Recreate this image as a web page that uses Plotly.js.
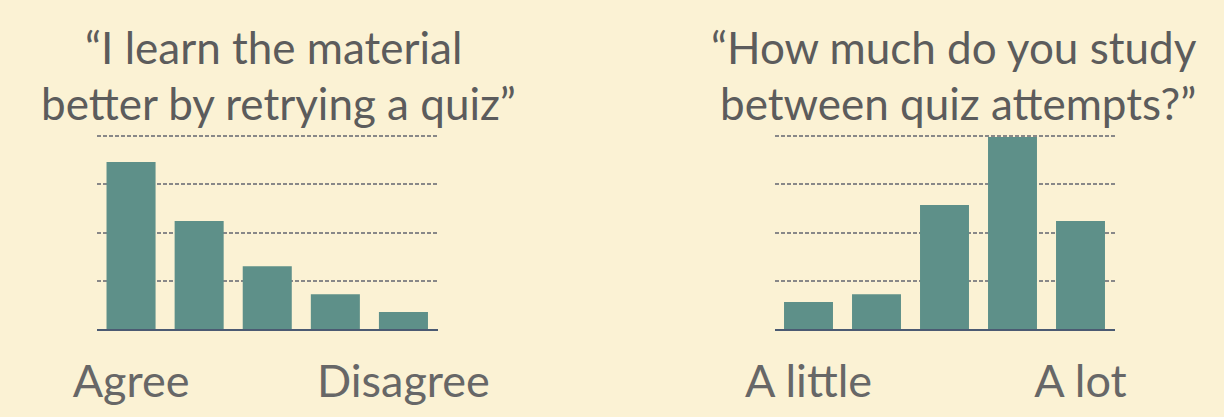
<!DOCTYPE html>
<html>
<head>
<meta charset="utf-8">
<script src="https://cdn.plot.ly/plotly-3.0.1.min.js"></script>
<style>
html,body{margin:0;padding:0;background:#fbf2d4;}
#chart{width:1224px;height:417px;}
</style>
</head>
<body>
<div id="chart"></div>
<script>
// Left chart: "I learn the material better by retrying a quiz"
const retryCategories = ["1", "2", "3", "4", "5"];
const retryValues = [3.46, 2.24, 1.30, 0.72, 0.35];
const retryTickVals = ["1", "5"];
const retryTickText = ["Agree", "Disagree"];
const retryTitleLines = ["“I learn the material", "better by retrying a quiz”"];

// Right chart: "How much do you study between quiz attempts?"
const studyCategories = ["1", "2", "3", "4", "5"];
const studyValues = [0.56, 0.72, 2.57, 3.98, 2.24];
const studyTickVals = ["1", "5"];
const studyTickText = ["A little", "A lot"];
const studyTitleLines = ["“How much do you study", "between quiz attempts?”"];

const barColor = "#5e9089";
const textColor = "#5c5c5c";
const fontFam = "Lato, 'Open Sans', sans-serif";

const traces = [
  {type: "bar", x: retryCategories, y: retryValues, xaxis: "x", yaxis: "y",
   marker: {color: barColor}, hoverinfo: "skip"},
  {type: "bar", x: studyCategories, y: studyValues, xaxis: "x2", yaxis: "y2",
   marker: {color: barColor}, hoverinfo: "skip"}
];

function xAxis(domain, vals, text, anchor) {
  return {
    domain: domain, anchor: anchor, type: "category",
    tickmode: "array", tickvals: vals, ticktext: text,
    showgrid: false, zeroline: false,
    showline: true, linecolor: "#4b5a72", linewidth: 2,
    ticks: "", ticklabelstandoff: 12,
    tickfont: {family: fontFam, size: 45, color: "#676767"},
    fixedrange: true
  };
}
function yAxis(domain, anchor) {
  return {
    domain: domain, anchor: anchor, range: [0, 4.04],
    tickvals: [1, 2, 3, 4], showticklabels: false,
    showgrid: true, gridcolor: "#888888", gridwidth: 2, griddash: "4px,2px",
    zeroline: false, showline: false, ticks: "", fixedrange: true
  };
}

// plot area: baseline at y=329px, value 4 at y=136px
const plotH = (329 - 136) * 4.04 / 4;
const yDom = [(417 - 329) / 417, (417 - 329 + plotH) / 417];

function titleAnn(text, xCenter, topPx) {
  return {text: text, xref: "paper", yref: "paper", x: xCenter / 1224, y: 1 - topPx / 417,
    xanchor: "center", yanchor: "top", showarrow: false, align: "center",
    font: {family: fontFam, size: 44, color: textColor}};
}

const layout = {
  width: 1224, height: 417,
  margin: {l: 0, r: 0, t: 0, b: 0},
  paper_bgcolor: "#fbf2d4", plot_bgcolor: "rgba(0,0,0,0)",
  showlegend: false, bargap: 0.28,
  font: {family: fontFam, color: textColor},
  xaxis: xAxis([97 / 1224, 437.5 / 1224], retryTickVals, retryTickText, "y"),
  yaxis: yAxis(yDom, "x"),
  xaxis2: xAxis([774.5 / 1224, 1114.5 / 1224], studyTickVals, studyTickText, "y2"),
  yaxis2: yAxis(yDom, "x2"),
  annotations: [
    titleAnn(retryTitleLines[0], 273, 19),
    titleAnn(retryTitleLines[1], 278, 75),
    titleAnn(studyTitleLines[0], 954, 19),
    titleAnn(studyTitleLines[1], 958, 75)
  ]
};

Plotly.newPlot("chart", traces, layout, {staticPlot: true, displayModeBar: false});
</script>
</body>
</html>
